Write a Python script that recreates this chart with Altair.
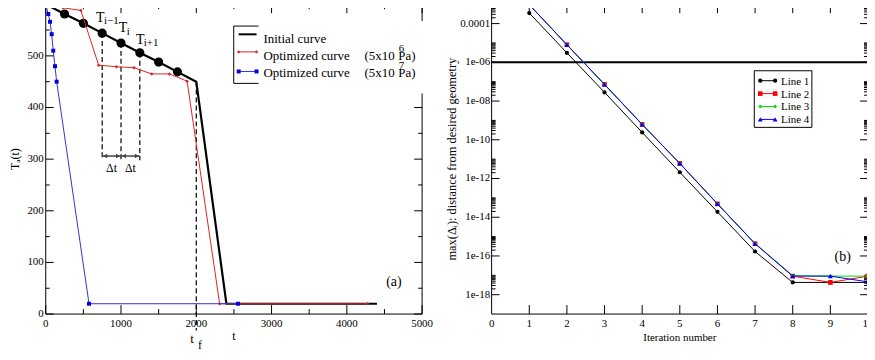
import altair as alt
import pandas as pd

FONT = "Liberation Serif, Times New Roman, Times, DejaVu Serif, serif"
W, H = 379, 312

# ---------------- panel (a) data ----------------
init_t = [0, 250, 500, 750, 1000, 1250, 1500, 1750, 2000, 2400, 4400]
init_T = [600, 581, 563, 544, 525, 506, 488, 469, 450, 20, 20]
red_t = [0, 230, 467, 703, 938, 1173, 1408, 1643, 1878, 2310, 4275]
red_T = [600, 593, 588, 482, 479, 477, 465, 465, 451, 20, 20]
blue_t = [0, 34, 57, 79, 100, 123, 145, 575, 2555]
blue_T = [600, 581, 566, 542, 510, 480, 450, 20, 20]

a_x_major = [0, 1000, 2000, 3000, 4000, 5000]
a_x_labels = ["0", "1000", "2000", "3000", "4000", "5000"]
a_x_minor = [500, 1500, 2500, 3500, 4500]
a_y_major = [0, 100, 200, 300, 400, 500, 600]
a_y_labels = ["0", "100", "200", "300", "400", "500", "600"]
a_y_minor = [50, 150, 250, 350, 450, 550]

dash_t = [750, 1000, 1250]
dash_top = [544, 525, 506]
dash_bottom = [298, 298, 298]
tf_t = [2000]
tf_top = [450]
tf_bottom = [-32]
arrow_from = [750, 1000]
arrow_to = [1000, 1250]
arrow_T = [306, 306]
dt_label_t = [875, 1125]
dt_label_T = [283, 283]
T_label_t = [723, 1026, 1257]
T_label_T = [574, 553, 530]
T_sub_t = [775, 1076, 1303]
T_sub_T = [567, 547, 524]
T_subs = ["i\u22121", "i", "i+1"]
a_legend = ["Initial curve", "Optimized curve", "Optimized curve"]
a_pressure = ["6", "7"]

# ---------------- panel (b) data ----------------
iters = [1, 2, 3, 4, 5, 6, 7, 8, 9, 10]
line1 = [3.5e-4, 3.1e-6, 2.8e-8, 2.4e-10, 2.1e-12, 1.9e-14, 1.7e-16, 4.3e-18, 4.3e-18, 4.3e-18]
line2 = [9.4e-4, 8.1e-6, 7.2e-8, 6.2e-10, 6.0e-12, 4.9e-14, 4.3e-16, 9.1e-18, 4.3e-18, 9.1e-18]
line3 = [9.4e-4, 8.1e-6, 7.2e-8, 6.2e-10, 6.0e-12, 4.9e-14, 4.4e-16, 9.6e-18, 9.1e-18, 9.1e-18]
line4 = [9.6e-4, 8.1e-6, 7.2e-8, 6.2e-10, 6.0e-12, 4.9e-14, 4.3e-16, 9.1e-18, 9.1e-18, 4.6e-18]
b_names = ["Line 1", "Line 2", "Line 3", "Line 4"]
b_colors = ["#000000", "#ff0000", "#00dd00", "#0000ff"]
b_shapes = ["circle", "square", "diamond", "triangle-up"]
b_sizes = [18, 22, 16, 24]
b_x_major = [0, 1, 2, 3, 4, 5, 6, 7, 8, 9, 10]
b_x_labels = ["0", "1", "2", "3", "4", "5", "6", "7", "8", "9", "10"]
b_y_major = [1e-4, 1e-6, 1e-8, 1e-10, 1e-12, 1e-14, 1e-16, 1e-18]
b_y_labels = ["0.0001", "1e-06", "1e-08", "1e-10", "1e-12", "1e-14", "1e-16", "1e-18"]
b_minor_mult = [2, 3, 4, 5, 6, 7, 8, 9, 10]
b_y_minor = [m * d for d in b_y_major for m in b_minor_mult]
target_line = [1e-6]

ONE = pd.DataFrame({"a": [0]})


def vrule(x, x2, y, y2, color="black", width=1.0, dash=None):
    kw = dict(color=color, strokeWidth=width)
    if dash is not None:
        kw["strokeDash"] = dash
    return alt.Chart(ONE).mark_rule(**kw).encode(
        x=alt.value(x), x2=alt.value(x2), y=alt.value(y), y2=alt.value(y2))


def vtext(text, x, y, size=13, align="left", baseline="middle", angle=None):
    kw = dict(text=text, font=FONT, fontSize=size, align=align, baseline=baseline, color="black")
    if angle is not None:
        kw["angle"] = angle
    return alt.Chart(ONE).mark_text(**kw).encode(x=alt.value(x), y=alt.value(y))


def vpoint(x, y, color, shape, size):
    return alt.Chart(ONE).mark_point(filled=True, shape=shape, size=size, color=color, opacity=1).encode(
        x=alt.value(x), y=alt.value(y))


def spines():
    return [vrule(0, W, 0, 0), vrule(0, W, H, H), vrule(0, 0, 0, H), vrule(W, W, 0, H)]


def xticks(vals, scale, length):
    df = pd.DataFrame({"v": vals})
    b = alt.Chart(df).mark_rule(color="black", strokeWidth=1).encode(
        x=alt.X("v:Q", scale=scale, axis=None), y=alt.value(H), y2=alt.value(H - length))
    t = alt.Chart(df).mark_rule(color="black", strokeWidth=1).encode(
        x=alt.X("v:Q", scale=scale, axis=None), y=alt.value(0), y2=alt.value(length))
    return [b, t]


def yticks(vals, scale, length):
    df = pd.DataFrame({"v": vals})
    l = alt.Chart(df).mark_rule(color="black", strokeWidth=1).encode(
        y=alt.Y("v:Q", scale=scale, axis=None), x=alt.value(0), x2=alt.value(length))
    r = alt.Chart(df).mark_rule(color="black", strokeWidth=1).encode(
        y=alt.Y("v:Q", scale=scale, axis=None), x=alt.value(W - length), x2=alt.value(W))
    return [l, r]


def xlabels(vals, labels, scale, dy=10, size=11):
    df = pd.DataFrame({"v": vals, "s": labels})
    return alt.Chart(df).mark_text(font=FONT, fontSize=size, align="center", baseline="middle", color="black").encode(
        x=alt.X("v:Q", scale=scale, axis=None), y=alt.value(H + dy), text="s:N")


def ylabels(vals, labels, scale, dx=-2, size=11):
    df = pd.DataFrame({"v": vals, "s": labels})
    return alt.Chart(df).mark_text(font=FONT, fontSize=size, align="right", baseline="middle", color="black").encode(
        y=alt.Y("v:Q", scale=scale, axis=None), x=alt.value(dx), text="s:N")


# ================= panel (a) =================
xs_a = alt.Scale(domain=[0, 5000], nice=False, zero=False)
ys_a = alt.Scale(domain=[0, 600], nice=False, zero=False)

layers_a = []
layers_a += spines()
layers_a += xticks(a_x_major, xs_a, 9)
layers_a += xticks(a_x_minor, xs_a, 5)
layers_a += yticks(a_y_major, ys_a, 8)
layers_a += yticks(a_y_minor, ys_a, 4)
layers_a.append(xlabels(a_x_major, a_x_labels, xs_a))
layers_a.append(ylabels(a_y_major, a_y_labels, ys_a))


def X_a(f):
    return alt.X(f, scale=xs_a, axis=None)


def Y_a(f):
    return alt.Y(f, scale=ys_a, axis=None)


df_tf = pd.DataFrame({"t": tf_t, "top": tf_top, "bot": tf_bottom})
layers_a.append(alt.Chart(df_tf).mark_rule(color="black", strokeWidth=1.2, strokeDash=[5, 3]).encode(
    x=X_a("t:Q"), y=Y_a("top:Q"), y2="bot:Q"))
df_dash = pd.DataFrame({"t": dash_t, "top": dash_top, "bot": dash_bottom})
layers_a.append(alt.Chart(df_dash).mark_rule(color="black", strokeWidth=1.2, strokeDash=[5, 3]).encode(
    x=X_a("t:Q"), y=Y_a("top:Q"), y2="bot:Q"))
df_arr = pd.DataFrame({"t0": arrow_from, "t1": arrow_to, "T": arrow_T})
layers_a.append(alt.Chart(df_arr).mark_rule(color="#444444", strokeWidth=1.5).encode(
    x=X_a("t0:Q"), x2="t1:Q", y=Y_a("T:Q")))
layers_a.append(alt.Chart(df_arr).mark_point(shape="triangle-left", filled=True, size=22, color="#444444", opacity=1).encode(
    x=X_a("t0:Q"), y=Y_a("T:Q"), xOffset=alt.value(3)))
layers_a.append(alt.Chart(df_arr).mark_point(shape="triangle-right", filled=True, size=22, color="#444444", opacity=1).encode(
    x=X_a("t1:Q"), y=Y_a("T:Q"), xOffset=alt.value(-3)))

df_black = pd.DataFrame({"t": init_t, "T": init_T})
df_red = pd.DataFrame({"t": red_t, "T": red_T})
df_blue = pd.DataFrame({"t": blue_t, "T": blue_T})
layers_a.append(alt.Chart(df_black).mark_line(color="black", strokeWidth=2.2).encode(x=X_a("t:Q"), y=Y_a("T:Q")))
layers_a.append(alt.Chart(df_black).transform_filter("datum.t > 0 && datum.t < 2000").mark_circle(
    color="black", size=85, opacity=1).encode(x=X_a("t:Q"), y=Y_a("T:Q")))
layers_a.append(alt.Chart(df_red).mark_line(color="#dd2222", strokeWidth=1).encode(x=X_a("t:Q"), y=Y_a("T:Q")))
layers_a.append(alt.Chart(df_red).mark_point(shape="diamond", filled=True, size=12, color="#dd2222", opacity=1).encode(
    x=X_a("t:Q"), y=Y_a("T:Q")))
layers_a.append(alt.Chart(df_blue).mark_line(color="#3333cc", strokeWidth=1).encode(x=X_a("t:Q"), y=Y_a("T:Q")))
layers_a.append(alt.Chart(df_blue).mark_point(shape="square", filled=True, size=16, color="#0000dd", opacity=1).encode(
    x=X_a("t:Q"), y=Y_a("T:Q")))

# annotation labels
df_T = pd.DataFrame({"t": T_label_t, "T": T_label_T})
layers_a.append(alt.Chart(df_T).mark_text(text="T", font=FONT, fontSize=14, align="center", baseline="middle", color="black").encode(
    x=X_a("t:Q"), y=Y_a("T:Q")))
df_Ts = pd.DataFrame({"t": T_sub_t, "T": T_sub_T, "s": T_subs})
layers_a.append(alt.Chart(df_Ts).mark_text(font=FONT, fontSize=11, align="left", baseline="middle", color="black").encode(
    x=X_a("t:Q"), y=Y_a("T:Q"), text="s:N"))
df_dt = pd.DataFrame({"t": dt_label_t, "T": dt_label_T})
layers_a.append(alt.Chart(df_dt).mark_text(text="\u0394t", font=FONT, fontSize=12, align="center", baseline="middle", color="black").encode(
    x=X_a("t:Q"), y=Y_a("T:Q")))
layers_a.append(vtext("(a)", 350.6, 279.7, size=14, align="center"))
layers_a.append(vtext("t", 147.3, 337, size=13, align="center"))
layers_a.append(vtext("f", 155.3, 343, size=12, align="center"))

# legend (a)
layers_a.append(alt.Chart(ONE).mark_rect(color="white").encode(
    x=alt.value(189.3), x2=alt.value(388), y=alt.value(17), y2=alt.value(90)))
layers_a.append(vrule(189.3, 189.3, 22, 79.7))
layers_a.append(vrule(189.3, 214.3, 22, 22))
layers_a.append(vrule(189.3, 214.3, 79.7, 79.7))
layers_a.append(vrule(194.3, 212.3, 30.3, 30.3, color="black", width=2))
layers_a.append(vrule(194.3, 212.3, 48, 48, color="#dd2222", width=1))
layers_a.append(vpoint(194.3, 48, "#dd2222", "diamond", 12))
layers_a.append(vpoint(212.3, 48, "#dd2222", "diamond", 12))
layers_a.append(vrule(194.3, 212.3, 67.7, 67.7, color="#3333cc", width=1))
layers_a.append(vpoint(194.3, 67.7, "#0000dd", "square", 16))
layers_a.append(vpoint(212.3, 67.7, "#0000dd", "square", 16))
for i, lab in enumerate(a_legend):
    layers_a.append(vtext(lab, 219.3, 35 + 17 * i, size=13))
for i, p in enumerate(a_pressure):
    yy = 52 + 17 * i
    layers_a.append(vtext("(5x10", 321, yy, size=13))
    layers_a.append(vtext("Pa)", 355, yy, size=13))
    layers_a.append(vtext(p, 358.3, yy - 7, size=11, align="center"))

# axis titles (a)
layers_a.append(vtext("T\u2090(t)", -30.7, 156, size=12, align="center", angle=270))
layers_a.append(vtext("t", W / 2, 334, size=12, align="center"))

chart_a = alt.layer(*layers_a).properties(width=W, height=H)

# ================= panel (b) =================
xs_b = alt.Scale(domain=[0, 10], nice=False, zero=False)
ys_b = alt.Scale(type="log", domain=[1e-19, 1e-3], nice=False)

layers_b = []
layers_b += spines()
layers_b += xticks(b_x_major[1:], xs_b, 9)
layers_b += yticks(b_y_major, ys_b, 8)
layers_b += yticks(b_y_minor, ys_b, 4)
layers_b.append(xlabels(b_x_major, b_x_labels, xs_b))
layers_b.append(ylabels(b_y_major, b_y_labels, ys_b, dx=-1.5))

layers_b.append(alt.Chart(pd.DataFrame({"v": target_line})).mark_rule(color="black", strokeWidth=2).encode(
    y=alt.Y("v:Q", scale=ys_b, axis=None), x=alt.value(0), x2=alt.value(W)))

for name, vals, col, shp, sz in zip(b_names, [line1, line2, line3, line4], b_colors, b_shapes, b_sizes):
    df = pd.DataFrame({"it": iters, "v": vals})
    enc = dict(x=alt.X("it:Q", scale=xs_b, axis=None), y=alt.Y("v:Q", scale=ys_b, axis=None))
    layers_b.append(alt.Chart(df).mark_line(color=col, strokeWidth=1).encode(**enc))
    layers_b.append(alt.Chart(df).mark_point(shape=shp, filled=True, size=sz, color=col, opacity=1).encode(**enc))

layers_b.append(vtext("(b)", 353.5, 254.7, size=14, align="center"))

# legend (b)
layers_b.append(alt.Chart(ONE).mark_rect(fill="white", stroke="black", strokeWidth=1).encode(
    x=alt.value(264.5), x2=alt.value(322.5), y=alt.value(67), y2=alt.value(124)))
for i, (name, col, shp, sz) in enumerate(zip(b_names, b_colors, b_shapes, b_sizes)):
    yy = 77 + 13 * i
    layers_b.append(vrule(270.5, 285.5, yy, yy, color=col, width=1))
    layers_b.append(vpoint(270.5, yy, col, shp, sz))
    layers_b.append(vpoint(285.5, yy, col, shp, sz))
    layers_b.append(vtext(name, 291.5, yy + 1, size=11))

layers_b.append(vtext("max(\u0394\u1d62): distance from desired geometry", -39.5, 156, size=12.5, align="center", angle=270))
layers_b.append(vtext("Iteration number", W / 2, 336, size=11, align="center"))

chart_b = alt.layer(*layers_b).properties(width=W, height=H)

chart = alt.hconcat(chart_a, chart_b, spacing=70, bounds="flush").configure_view(
    stroke=None).properties(padding={"left": 1, "top": -11, "right": -7, "bottom": -1})

chart.save("out.html", embed_options={"renderer": "svg", "actions": False})
